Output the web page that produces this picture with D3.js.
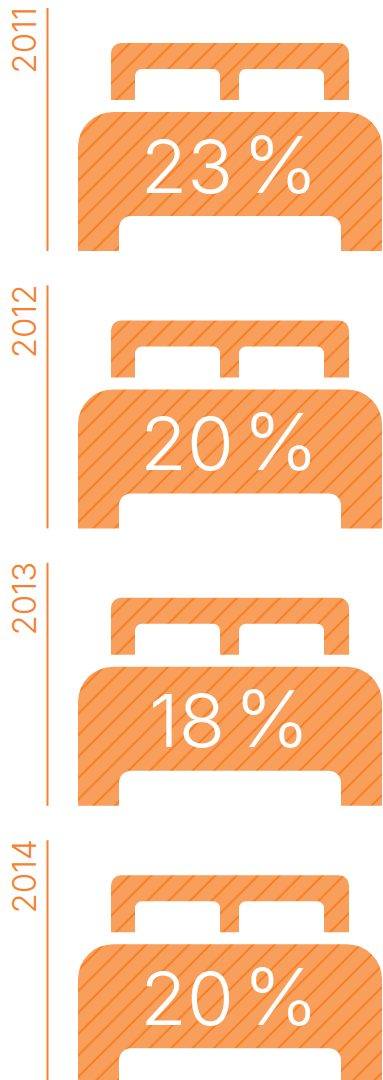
<!DOCTYPE html>
<html>
<head>
<meta charset="utf-8">
<script src="https://cdn.jsdelivr.net/npm/d3@7/dist/d3.min.js"></script>
<style>
html,body{margin:0;padding:0;background:#fff;overflow:hidden}
svg{display:block}
text{font-family:Inter,Lato,sans-serif}
</style>
</head>
<body>
<div id="chart"></div>
<script>
const years = ["2011", "2012", "2013", "2014"];
const shares = [23, 20, 18, 20];

const width = 383, height = 1080;
const orange = "#f5822f", hatchInk = "#f47b20", bedFill = "#f89f5b";
const hatchStep = 21.4;

const svg = d3.select("#chart").append("svg")
  .attr("width", width).attr("height", height);

const hatch = svg.append("defs").append("pattern")
  .attr("id", "hatch")
  .attr("patternUnits", "userSpaceOnUse")
  .attr("patternTransform", "translate(15.3,0)")
  .attr("width", hatchStep).attr("height", hatchStep);
hatch.append("rect").attr("width", hatchStep).attr("height", hatchStep).attr("fill", bedFill);
hatch.append("path")
  .attr("d", `M-2,2L2,-2M0,${hatchStep}L${hatchStep},0M${hatchStep - 2},${hatchStep + 2}L${hatchStep + 2},${hatchStep - 2}`)
  .attr("stroke", hatchInk).attr("stroke-width", 1.7);

// One row per year
const y = d3.scaleBand().domain(years).range([8, 8 + 277.4 * 4]);

// Traces a closed outline with rounded corners through the listed points
function outline(p, pts) {
  p.moveTo(pts[0][0], pts[0][1]);
  for (let i = 1; i < pts.length; i++) {
    const [cx, cy, r] = pts[i];
    if (r) {
      const [nx, ny] = pts[i + 1];
      p.arcTo(cx, cy, nx, ny, r);
    } else {
      p.lineTo(cx, cy);
    }
  }
  p.closePath();
}

function bedPath() {
  const p = d3.path();
  // headboard with its two pillow recesses
  outline(p, [
    [111, 92], [111, 35, 10], [349, 35, 10], [349, 92], [324, 92],
    [324, 61, 7], [239, 61, 7], [239, 92], [220, 92],
    [220, 61, 7], [135, 61, 7], [135, 92]
  ]);
  // mattress and frame
  outline(p, [
    [78, 243], [78, 104, 35], [382, 104, 35], [382, 243], [341, 243],
    [341, 208, 12], [119, 208, 12], [119, 243]
  ]);
  return p.toString();
}

const rows = svg.selectAll("g.row")
  .data(years.map((year, i) => ({ year, share: shares[i] })))
  .join("g")
  .attr("class", "row")
  .attr("transform", d => `translate(0,${y(d.year)})`);

rows.append("line")
  .attr("x1", 47.5).attr("x2", 47.5).attr("y1", 0).attr("y2", 243)
  .attr("stroke", orange).attr("stroke-width", 2);

rows.append("text")
  .attr("transform", "translate(35.5,-1) rotate(-90)")
  .attr("text-anchor", "end")
  .attr("font-size", 33).attr("font-weight", 300)
  .attr("fill", orange)
  .text(d => d.year);

rows.append("path")
  .attr("d", bedPath())
  .attr("fill", "url(#hatch)");

const labels = rows.append("text")
  .attr("transform", "translate(229.5,184.5) scale(1.04,1)")
  .attr("text-anchor", "middle")
  .attr("font-size", 73).attr("font-weight", 300)
  .attr("word-spacing", -12)
  .attr("fill", "#fff");
labels.append("tspan").text(d => `${d.share} `);
labels.append("tspan").attr("font-size", 78).text("%");
</script>
</body>
</html>
